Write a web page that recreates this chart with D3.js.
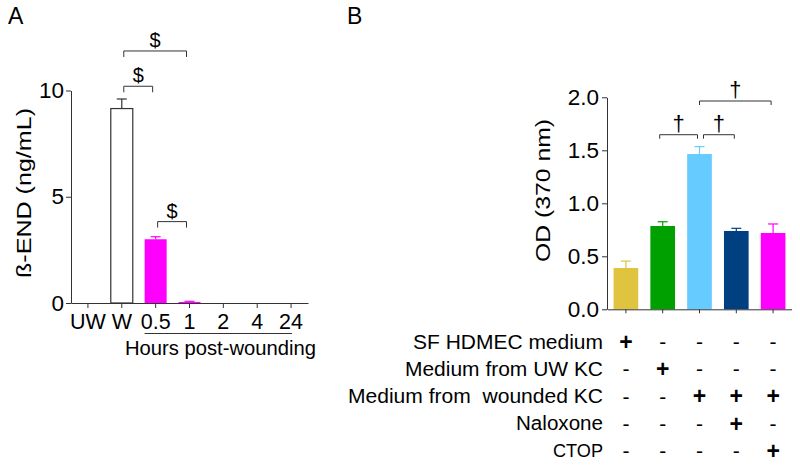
<!DOCTYPE html>
<html><head><meta charset="utf-8">
<script src="https://cdn.jsdelivr.net/npm/d3@7"></script>
<style>
body{margin:0;background:#fff;}
svg text{font-family:Arial,"Liberation Sans",Helvetica,sans-serif;fill:#000;}
</style></head>
<body><svg id="c" width="800" height="467"></svg>
<script>
// Panel A data
const catsA = ["UW","W","0.5","1","2","4","24"];
const valsA = [null, 9.15, 3.0, 0.05, 0, 0, 0];
const errA  = [null, 0.45, 0.12, 0.03, 0, 0, 0];
const ticksA = [0,5,10];
const bracketsA = [["W","1",11.86],["W","0.5",10.2],["0.5","1",3.83]];

// Panel B data
const catsB = ["g1","g2","g3","g4","g5"];
const valsB = [0.39, 0.786, 1.465, 0.739, 0.72];
const errB  = [0.065, 0.04, 0.07, 0.025, 0.085];
const colorsB = ["#e0c33f","#00a000","#66ccff","#003f80","#ff00ff"];
const ticksB = [0,0.5,1.0,1.5,2.0];
const bracketsB = [["g2","g3",1.647],["g3","g4",1.647],["g3","g5",1.965]];
const rowLabels = ["SF HDMEC medium","Medium from UW KC","Medium from  wounded KC","Naloxone","CTOP"];
const rowLabelWidths = [190,198,255,87,50];
const signs = [
  ["+","-","-","-","-"],
  ["-","+","-","-","-"],
  ["-","-","+","+","+"],
  ["-","-","-","+","-"],
  ["-","-","-","-","+"]
];

const svg = d3.select("#c");
const axisCol = "#333";
const FS = 20;
const TFS = 22.5;

// ---------- Panel A ----------
const xA = d3.scaleBand().domain(catsA).range([71,308]).padding(0);
const yA = d3.scaleLinear().domain([0,10]).range([303,90.5]);
const gA = svg.append("g");
const barWA = 22;

gA.append("text").attr("x",8).attr("y",24).attr("font-size",23).text("A");

catsA.forEach((c,i)=>{
  if(valsA[i]===null) return;
  const cx = xA(c)+xA.bandwidth()/2;
  const isW = c==="W";
  const col = isW ? "#333" : "#ff00ff";
  if(valsA[i]>0){
    gA.append("line").attr("x1",cx).attr("x2",cx).attr("y1",yA(valsA[i])).attr("y2",yA(valsA[i]+errA[i]))
      .attr("stroke", col).attr("stroke-width",1.2);
    gA.append("line").attr("x1",cx-5).attr("x2",cx+5).attr("y1",yA(valsA[i]+errA[i])).attr("y2",yA(valsA[i]+errA[i]))
      .attr("stroke", col).attr("stroke-width",1.2);
    gA.append("rect").attr("x",cx-barWA/2).attr("width",barWA)
      .attr("y",yA(valsA[i])).attr("height",yA(0)-yA(valsA[i]))
      .attr("fill", isW?"#fff":col).attr("stroke", isW?col:"none").attr("stroke-width",1.2);
  }
});

const yAxA = d3.axisLeft(yA).tickValues(ticksA).tickSize(5).tickSizeOuter(0);
const gyA = gA.append("g").attr("transform","translate(71,0)").call(yAxA);
gyA.select(".domain").attr("stroke",axisCol);
gyA.selectAll(".tick line").attr("stroke",axisCol);
gyA.selectAll(".tick text").attr("font-size",TFS).attr("font-family","Arial, Liberation Sans, sans-serif").attr("fill","#000").attr("x",-7);

const xAxA = d3.axisBottom(xA).tickSize(5).tickSizeOuter(0);
const gxA = gA.append("g").attr("transform","translate(0,303)").call(xAxA);
gxA.select(".domain").attr("stroke",axisCol);
gxA.selectAll(".tick line").attr("stroke",axisCol);
gxA.selectAll(".tick text").attr("font-size",21.5).attr("font-family","Arial, Liberation Sans, sans-serif").attr("fill","#000").attr("dy","0.85em");

gA.append("line").attr("x1",xA("0.5")+xA.bandwidth()/2-11).attr("x2",xA("24")+xA.bandwidth()/2+1)
  .attr("y1",333.5).attr("y2",333.5).attr("stroke","#333").attr("stroke-width",1);
gA.append("text").attr("x",125).attr("y",355).attr("font-size",FS)
  .attr("textLength",191).attr("lengthAdjust","spacingAndGlyphs").text("Hours post-wounding");

gA.append("text").attr("transform","translate(31,193) rotate(-90)").attr("text-anchor","middle")
  .attr("font-size",21).attr("textLength",170).attr("lengthAdjust","spacingAndGlyphs").text("ß-END (ng/mL)");

bracketsA.forEach(([a,b,v])=>{
  const x1 = xA(a)+xA.bandwidth()/2+2, x2 = xA(b)+xA.bandwidth()/2-3, y = yA(v);
  gA.append("path").attr("d",`M${x1},${y+6}V${y}H${x2}V${y+6}`).attr("fill","none").attr("stroke","#333").attr("stroke-width",1);
  gA.append("text").attr("x",(x1+x2)/2).attr("y",y-4).attr("text-anchor","middle").attr("font-size",20).text("$");
});

// ---------- Panel B ----------
const xB = d3.scaleBand().domain(catsB).range([607.5,791.5]).paddingInner(0.33).paddingOuter(0.165);
const yB = d3.scaleLinear().domain([0,2]).range([309.3,97.3]);
const gB = svg.append("g");

gB.append("text").attr("x",347).attr("y",24).attr("font-size",23).text("B");

catsB.forEach((c,i)=>{
  const cx = xB(c)+xB.bandwidth()/2;
  gB.append("line").attr("x1",cx).attr("x2",cx).attr("y1",yB(valsB[i])).attr("y2",yB(valsB[i]+errB[i]))
    .attr("stroke",colorsB[i]).attr("stroke-width",1.2);
  gB.append("line").attr("x1",cx-5).attr("x2",cx+5).attr("y1",yB(valsB[i]+errB[i])).attr("y2",yB(valsB[i]+errB[i]))
    .attr("stroke",colorsB[i]).attr("stroke-width",1.2);
  gB.append("rect").attr("x",xB(c)).attr("width",xB.bandwidth())
    .attr("y",yB(valsB[i])).attr("height",yB(0)-yB(valsB[i])).attr("fill",colorsB[i]);
});

const yAxB = d3.axisLeft(yB).tickValues(ticksB).tickFormat(d3.format(".1f")).tickSize(5).tickSizeOuter(0);
const gyB = gB.append("g").attr("transform","translate(607,0)").call(yAxB);
gyB.select(".domain").attr("stroke",axisCol);
gyB.selectAll(".tick line").attr("stroke",axisCol);
gyB.selectAll(".tick text").attr("font-size",TFS).attr("font-family","Arial, Liberation Sans, sans-serif").attr("fill","#000").attr("x",-8);

const xAxB = d3.axisBottom(xB).tickSize(4).tickSizeOuter(0).tickFormat("");
const gxB = gB.append("g").attr("transform","translate(0,309.3)").call(xAxB);
gxB.select(".domain").attr("stroke",axisCol);
gxB.selectAll(".tick line").attr("stroke",axisCol);

gB.append("text").attr("transform","translate(550,190.5) rotate(-90)").attr("text-anchor","middle")
  .attr("font-size",21).attr("textLength",143).attr("lengthAdjust","spacingAndGlyphs").text("OD (370 nm)");

bracketsB.forEach(([a,b,v])=>{
  const x1 = xB(a)+xB.bandwidth()/2-3, x2 = xB(b)+xB.bandwidth()/2-2, y = yB(v);
  const xl = a==="g3" ? xB(a)+xB.bandwidth()/2+(b==="g4"?4:0) : x1;
  gB.append("path").attr("d",`M${xl},${y+4}V${y}H${x2}V${y+4}`).attr("fill","none").attr("stroke","#333").attr("stroke-width",1);
  gB.append("text").attr("x",(xl+x2)/2).attr("y",y-4).attr("text-anchor","middle").attr("font-size",22).text("†");
});

const rowY = d3.scalePoint().domain(rowLabels).range([341.7,450.7]);
rowLabels.forEach((lab,r)=>{
  const y = rowY(lab);
  gB.append("text").attr("x",603).attr("y",y).attr("dy","0.35em").attr("text-anchor","end")
    .attr("font-size", lab==="CTOP"?19:20).attr("textLength",rowLabelWidths[r]).attr("lengthAdjust","spacingAndGlyphs")
    .style("white-space","pre").text(lab);
  signs[r].forEach((s,i)=>{
    const cx = xB(catsB[i])+xB.bandwidth()/2;
    gB.append("text").attr("x",cx).attr("y",y).attr("dy","0.35em").attr("text-anchor","middle")
      .attr("font-size",s==="+"?23:21).attr("font-weight",s==="+"?"bold":"normal").text(s);
  });
});
</script></body></html>
